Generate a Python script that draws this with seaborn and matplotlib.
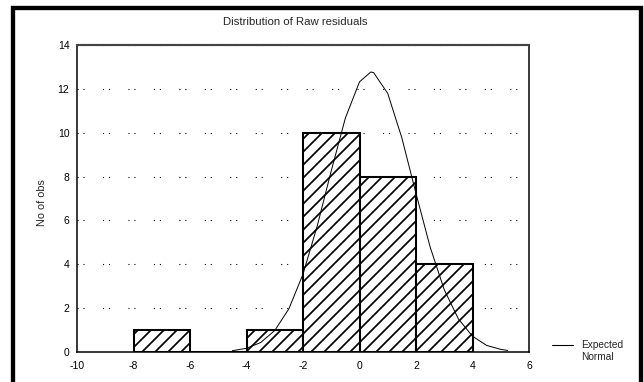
import numpy as np
import pandas as pd
import matplotlib
matplotlib.use("Agg")
import matplotlib.pyplot as plt
from matplotlib.patches import Rectangle
from matplotlib.lines import Line2D
import seaborn as sns

# ---- data ----
bin_edges = [-8, -6, -4, -2, 0, 2, 4]
counts = [1, 0, 1, 10, 8, 4]
curve_x = [-4.5, -4.0, -3.5, -3.0, -2.5, -2.0, -1.5, -1.0, -0.5, 0.0, 0.4, 0.5,
           1.0, 1.5, 2.0, 2.5, 3.0, 3.5, 4.0, 4.5, 5.0, 5.25]
curve_y = [0.06, 0.17, 0.43, 0.98, 1.97, 3.55, 5.73, 8.26, 10.67, 12.32, 12.77, 12.74,
           11.79, 9.76, 7.23, 4.79, 2.84, 1.51, 0.72, 0.30, 0.12, 0.07]
x_ticks = [-10, -8, -6, -4, -2, 0, 2, 4, 6]
y_ticks = [0, 2, 4, 6, 8, 10, 12, 14]
title = "Distribution of Raw residuals"
ylabel = "No of obs"
legend_label = "Expected\nNormal"

DPI = 78
W, H = 644, 382

sns.set_theme(style="white")
plt.rcParams["font.family"] = ["Liberation Sans", "DejaVu Sans"]
plt.rcParams["axes.unicode_minus"] = False
plt.rcParams["hatch.linewidth"] = 1.6
plt.rcParams["hatch.color"] = "black"

fig = plt.figure(figsize=(W / DPI, H / DPI), dpi=DPI)
fig.patch.set_facecolor("white")

ax_l, ax_r, ax_t, ax_b = 77, 529, 45, 352
ax = fig.add_axes([ax_l / W, 1 - ax_b / H, (ax_r - ax_l) / W, (ax_b - ax_t) / H])
ax.set_facecolor("white")

centers = [(a + b) / 2 for a, b in zip(bin_edges[:-1], bin_edges[1:])]
df = pd.DataFrame({"x": centers, "n": counts})
sns.histplot(data=df, x="x", weights="n", bins=bin_edges, ax=ax,
             color="white", edgecolor="black", linewidth=1.9, alpha=1, zorder=2)
for p in ax.patches:
    p.set_hatch("//")
    p.set_facecolor("white")
    p.set_edgecolor("black")

sns.lineplot(x=curve_x, y=curve_y, color="black", linewidth=0.9, ax=ax, zorder=3)

ax.set_xlim(-10, 6)
ax.set_ylim(0, 14)
ax.set_xticks(x_ticks)
ax.set_yticks(y_ticks)
ax.set_xticklabels([str(v) for v in x_ticks])
ax.set_yticklabels([str(v) for v in y_ticks])
ax.set_xlabel("")
ax.set_ylabel("")
ax.tick_params(axis="both", length=0, labelsize=9.6, colors="black")
ax.tick_params(axis="x", pad=8)
ax.tick_params(axis="y", pad=7)

ax.set_axisbelow(True)
ax.grid(axis="y", color="black", linestyle=(0, (1, 4.5, 1, 17)), linewidth=1.0)
ax.grid(axis="x", visible=False)

for side in ["left", "right", "bottom"]:
    ax.spines[side].set_visible(True)
    ax.spines[side].set_color("black")
    ax.spines[side].set_linewidth(1.4)
ax.spines["top"].set_visible(True)
ax.spines["top"].set_color("#444444")
ax.spines["top"].set_linewidth(2.0)

fig.text(295 / W, 1 - 22 / H, title, ha="center", va="center", fontsize=10.5)
fig.text(42 / W, 1 - 203 / H, ylabel, ha="center", va="center", rotation=90, fontsize=10)

# legend
fig.add_artist(Line2D([552 / W, 573 / W], [1 - 345 / H, 1 - 345 / H],
                      color="black", linewidth=1.0, transform=fig.transFigure))
fig.text(581 / W, 1 - 345 / H, "Expected", ha="left", va="center", fontsize=9.4)
fig.text(581 / W, 1 - 357 / H, "Normal", ha="left", va="center", fontsize=9.4)

# outer black frame
fig.add_artist(Rectangle((13 / W, -0.1), (641 - 13) / W, 1.1 - 8 / H,
                         transform=fig.transFigure, fill=False,
                         edgecolor="black", linewidth=4.0, clip_on=False))

fig.savefig("out.png", dpi=DPI)
